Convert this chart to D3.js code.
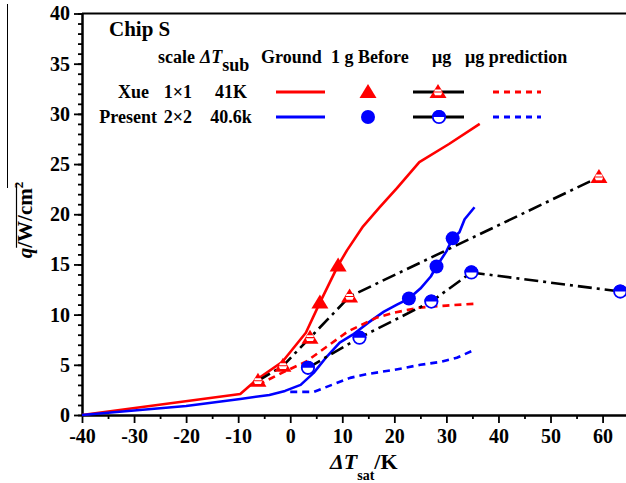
<!DOCTYPE html>
<html>
<head>
<meta charset="utf-8">
<style>
  body { margin: 0; background: #fff; }
  text { font-family: "Liberation Serif", "Times New Roman", serif; font-weight: bold; }
</style>
</head>
<body>
<script src="https://cdn.jsdelivr.net/npm/d3@7"></script>
<div id="chart"></div>
<script>
// data: [dT_sat (K), q (W/cm2)]
var xueGround  = [[-40,0],[-9.6,2.1],[-6.5,3.5],[-1.5,5.3],[3,8.2],[5.7,11.2],[9.2,14.9],[10.9,16.4],[14,18.8],[17.2,20.7],[20.5,22.6],[24.8,25.2],[30.5,27],[36.4,29]];
var xueBefore  = [[5.7,11.2],[9.2,14.9]];
var xueMicro   = [[-6.2,3.4],[-1.4,4.9],[3.8,7.7],[11.4,11.8],[59.3,23.7]];
var xuePred    = [[-6.2,3.0],[-1.2,4.3],[3,5.3],[7,6.8],[11,8.3],[16.6,9.7],[20,10.2],[24.8,10.7],[30,10.9],[36,11.1]];
var presGround = [[-40,0],[-30,0.45],[-20,0.9],[-9.6,1.6],[-4,2.0],[-1,2.4],[2,3.0],[4.5,4.2],[7,5.8],[9.5,7.2],[12,8.0],[15,9.2],[18,10.3],[20.5,11.0],[22.8,11.6],[25,12.6],[27,13.8],[28.1,14.8],[30,16.3],[31.2,17.6],[32.5,18.2],[33.5,19.5],[35.4,20.7]];
var presBefore = [[22.8,11.6],[28.1,14.8],[31.2,17.6]];
var presMicro  = [[3.4,4.7],[13.3,7.7],[27.1,11.3],[34.8,14.2],[63.4,12.3]];
var presPred   = [[0,2.3],[4.5,2.3],[8,3.0],[11.5,3.7],[15,4.1],[20,4.5],[25,5.0],[29,5.3],[32,5.7],[35,6.4]];

var xTicks = [-40,-30,-20,-10,0,10,20,30,40,50,60];
var yTicks = [0,5,10,15,20,25,30,35,40];

var W = 626, H = 483;
var svg = d3.select("#chart").append("svg")
    .attr("width", W).attr("height", H);

var x = d3.scaleLinear().domain([-40, 64.5]).range([82, 626]);
var y = d3.scaleLinear().domain([0, 40]).range([415, 13.5]);

var RED = "#ff0000", BLUE = "#0000ff";
var DASHDOT = "14,5,3,5", DASH = "7,5";
var plain = function(d) { return String(d); };   // hyphen minus like the original

// axes
var fontSize = "20px";
svg.append("g").attr("transform", "translate(0," + y(0) + ")")
  .call(d3.axisBottom(x).tickValues(d3.range(-35, 65, 10)).tickSize(4).tickSizeOuter(0).tickFormat(""));
svg.append("g").attr("transform", "translate(0," + y(0) + ")")
  .call(d3.axisBottom(x).tickValues(xTicks).tickSize(8).tickSizeOuter(0).tickPadding(6).tickFormat(plain))
  .selectAll("text").style("font-size", fontSize).style("fill", "#000");
svg.append("g").attr("transform", "translate(" + x(-40) + ",0)")
  .call(d3.axisLeft(y).tickValues(d3.range(0, 41, 1)).tickSize(4).tickSizeOuter(0).tickFormat(""));
svg.append("g").attr("transform", "translate(" + x(-40) + ",0)")
  .call(d3.axisLeft(y).tickValues(yTicks).tickSize(8).tickSizeOuter(0).tickPadding(4).tickFormat(plain))
  .selectAll("text").style("font-size", fontSize).style("fill", "#000");
svg.selectAll(".domain").attr("stroke-width", 2);
svg.selectAll(".tick line").attr("stroke-width", 1.8);
// top frame line
svg.append("line").attr("x1", x(-40)).attr("x2", W).attr("y1", y(40)).attr("y2", y(40))
  .attr("stroke", "#000").attr("stroke-width", 2);

// stray line at top-left of the picture
svg.append("line").attr("x1", 7.5).attr("x2", 7.5).attr("y1", 4).attr("y2", 188)
  .attr("stroke", "#000").attr("stroke-width", 1);

var line = d3.line().x(function(d) { return x(d[0]); }).y(function(d) { return y(d[1]); });
var plot = svg.append("g");

function drawLine(data, color, dash) {
  plot.append("path").datum(data).attr("d", line)
    .attr("fill", "none").attr("stroke", color).attr("stroke-width", 2.6)
    .attr("stroke-dasharray", dash || null).attr("stroke-linejoin", "round");
}
drawLine(xueGround, RED);
drawLine(presGround, BLUE);
drawLine(xuePred, RED, DASH);
drawLine(presPred, BLUE, DASH);
drawLine(xueMicro, "#000", DASHDOT);
drawLine(presMicro, "#000", DASHDOT);

function triFilled(g, cx, cy) {
  g.append("path").attr("d", "M" + cx + "," + (cy - 8) + "L" + (cx + 8.5) + "," + (cy + 6) + "L" + (cx - 8.5) + "," + (cy + 6) + "Z")
    .attr("fill", RED);
}
function triHalf(g, cx, cy) {
  triFilled(g, cx, cy);
  g.append("path").attr("d", "M" + (cx - 4.2) + "," + (cy + 0.5) + "L" + (cx + 4.2) + "," + (cy + 0.5) + "L" + (cx + 3) + "," + (cy + 3.2) + "L" + (cx - 3) + "," + (cy + 3.2) + "Z")
    .attr("fill", "#fff");
  g.append("path").attr("d", "M" + (cx - 2.8) + "," + (cy - 2.5) + "L" + (cx + 2.8) + "," + (cy - 2.5) + "L" + (cx + 3.8) + "," + (cy - 0.6) + "L" + (cx - 3.8) + "," + (cy - 0.6) + "Z")
    .attr("fill", "#fff");
}
function circFilled(g, cx, cy) {
  g.append("circle").attr("cx", cx).attr("cy", cy).attr("r", 7).attr("fill", BLUE);
}
function circHalf(g, cx, cy) {
  g.append("circle").attr("cx", cx).attr("cy", cy).attr("r", 6.2).attr("fill", "#fff")
    .attr("stroke", BLUE).attr("stroke-width", 1.8);
  g.append("path").attr("d", "M" + (cx - 7) + "," + cy + "A7,7 0 0,1 " + (cx + 7) + "," + cy + "Z").attr("fill", BLUE);
}

xueMicro.forEach(function(d) { triHalf(plot, x(d[0]), y(d[1])); });
xueBefore.forEach(function(d) { triFilled(plot, x(d[0]), y(d[1])); });
presMicro.forEach(function(d) { circHalf(plot, x(d[0]), y(d[1])); });
presBefore.forEach(function(d) { circFilled(plot, x(d[0]), y(d[1])); });

// axis titles
var xt = svg.append("text").attr("x", 330).attr("y", 469).style("font-size", "22px");
xt.append("tspan").style("font-style", "italic").text("\u0394T");
xt.append("tspan").attr("dy", 11).style("font-size", "14px").text("sat");
xt.append("tspan").attr("dy", -11).text("/K");

var yt = svg.append("text").attr("transform", "translate(32,220) rotate(-90)")
  .attr("text-anchor", "middle").style("font-size", "21px");
yt.append("tspan").style("font-style", "italic").text("q");
yt.append("tspan").text("/W/cm");
yt.append("tspan").attr("dy", -9).style("font-size", "13px").text("2");
var bb = yt.node().getBBox();
var qLen = yt.node().getSubStringLength(0, 1);
svg.append("line")
  .attr("x1", 32 - 15.5).attr("x2", 32 - 15.5)
  .attr("y1", 220 - (bb.x + qLen)).attr("y2", 220 - (bb.x + bb.width) + 2)
  .attr("stroke", "#000").attr("stroke-width", 1.2);

// legend
var lg = svg.append("g").style("font-size", "18px");
lg.append("text").attr("x", 109).attr("y", 36).style("font-size", "21px").text("Chip S");
var hy = 63;
lg.append("text").attr("x", 158).attr("y", hy).text("scale");
var ts = lg.append("text").attr("x", 200).attr("y", hy);
ts.append("tspan").style("font-style", "italic").text("\u0394T");
ts.append("tspan").attr("dy", 8).text("sub");
lg.append("text").attr("x", 261).attr("y", hy).text("Ground");
lg.append("text").attr("x", 331).attr("y", hy).text("1 g Before");
lg.append("text").attr("x", 432).attr("y", hy).text("\u03bcg");
lg.append("text").attr("x", 465).attr("y", hy).text("\u03bcg prediction");

var rows = [
  {name: "Xue", nameEnd: 149, scale: "1\u00d71", sub: "41K", y: 98, color: RED},
  {name: "Present", nameEnd: 157, scale: "2\u00d72", sub: "40.6k", y: 123, color: BLUE}
];
rows.forEach(function(r, i) {
  lg.append("text").attr("x", r.nameEnd).attr("y", r.y).attr("text-anchor", "end").text(r.name);
  lg.append("text").attr("x", 178).attr("y", r.y).attr("text-anchor", "middle").text(r.scale);
  lg.append("text").attr("x", 231).attr("y", r.y).attr("text-anchor", "middle").text(r.sub);
  var ly = r.y - 6;
  lg.append("line").attr("x1", 276).attr("x2", 325).attr("y1", ly).attr("y2", ly)
    .attr("stroke", r.color).attr("stroke-width", 2.8);
  lg.append("line").attr("x1", 413).attr("x2", 464).attr("y1", ly).attr("y2", ly)
    .attr("stroke", "#000").attr("stroke-width", 2.8);
  lg.append("line").attr("x1", 493).attr("x2", 541).attr("y1", ly).attr("y2", ly)
    .attr("stroke", r.color).attr("stroke-width", 2.8).attr("stroke-dasharray", "6,5");
  if (i === 0) { triFilled(lg, 368, ly); triHalf(lg, 438, ly); }
  else { circFilled(lg, 368, ly); circHalf(lg, 439, ly); }
});
</script>
</body>
</html>
